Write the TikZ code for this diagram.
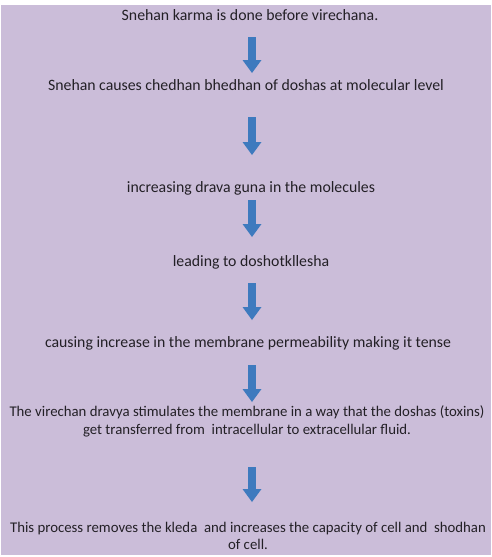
\documentclass[tikz,border=0pt]{standalone}
\usepackage{fontspec}
\setmainfont{Carlito}
\usepackage{tikz}
\usetikzlibrary{arrows.meta}
\usetikzlibrary{positioning}
\definecolor{lilac}{RGB}{203,189,217}
\definecolor{arrowblue}{RGB}{62,122,190}
\definecolor{inkgray}{RGB}{35,32,38}
\tikzset{txt/.style = {text = inkgray, font = \fontsize{15.8}{17.5}\selectfont,
                       align = center, inner sep = 0}}
\tikzset{wide/.style = {txt, font = \fontsize{14.8}{17.5}\selectfont}}
\tikzset{flow/.style = {draw = arrowblue, line width = 8pt,
                        -{Triangle[width = 19pt, length = 13pt, line width = 0pt]}}}

\begin{document}
\begin{tikzpicture}[x=1pt, y=-1pt]
    \useasboundingbox (0, 0) rectangle (491, 557);
    \fill [lilac] (1, 5) rectangle (491, 555);

    \node [txt] (t1) at (250, 15) {Snehan karma is done before virechana.};
    \node [txt] (t2) at (246, 85) {Snehan causes chedhan bhedhan of doshas at molecular level};
    \node [txt] (t3) at (251, 188) {increasing drava guna in the molecules};
    \node [txt] (t4) at (251, 262) {leading to doshotkllesha};
    \node [txt] (t5) at (248, 343) {causing increase in the membrane permeability making it tense};
    \node [wide] (t6) at (247, 421.5) {The virechan dravya stimulates the membrane in a way that the doshas (toxins)\\
        get transferred from\ \ intracellular to extracellular fluid.};
    \node [wide] (t7) at (248, 536) {This process removes the kleda\ \ and increases the capacity of cell and\ \ shodhan\\
        of cell.};

    \draw [flow, shorten <= 22pt, shorten >= 12pt] ([xshift=2pt]t1.center) -- ([xshift=2pt]t1.center |- t2.center);
    \draw [flow, shorten <= 32pt, shorten >= 33pt] ([xshift=2pt]t1.center |- t2.center) -- ([xshift=2pt]t1.center |- t3.center);
    \draw [flow, shorten <= 12pt, shorten >= 25pt] ([xshift=2pt]t1.center |- t3.center) -- ([xshift=2pt]t1.center |- t4.center);
    \draw [flow, shorten <= 21pt, shorten >= 23pt] ([xshift=2pt]t1.center |- t4.center) -- ([xshift=2pt]t1.center |- t5.center);
    \draw [flow, shorten <= 22pt, shorten >= 19.5pt] ([xshift=2pt]t1.center |- t5.center) -- ([xshift=2pt]t1.center |- t6.center);
    \draw [flow, shorten <= 45.5pt, shorten >= 34pt] ([xshift=2pt]t1.center |- t6.center) -- ([xshift=2pt]t1.center |- t7.center);
  \end{tikzpicture}
\end{document}
